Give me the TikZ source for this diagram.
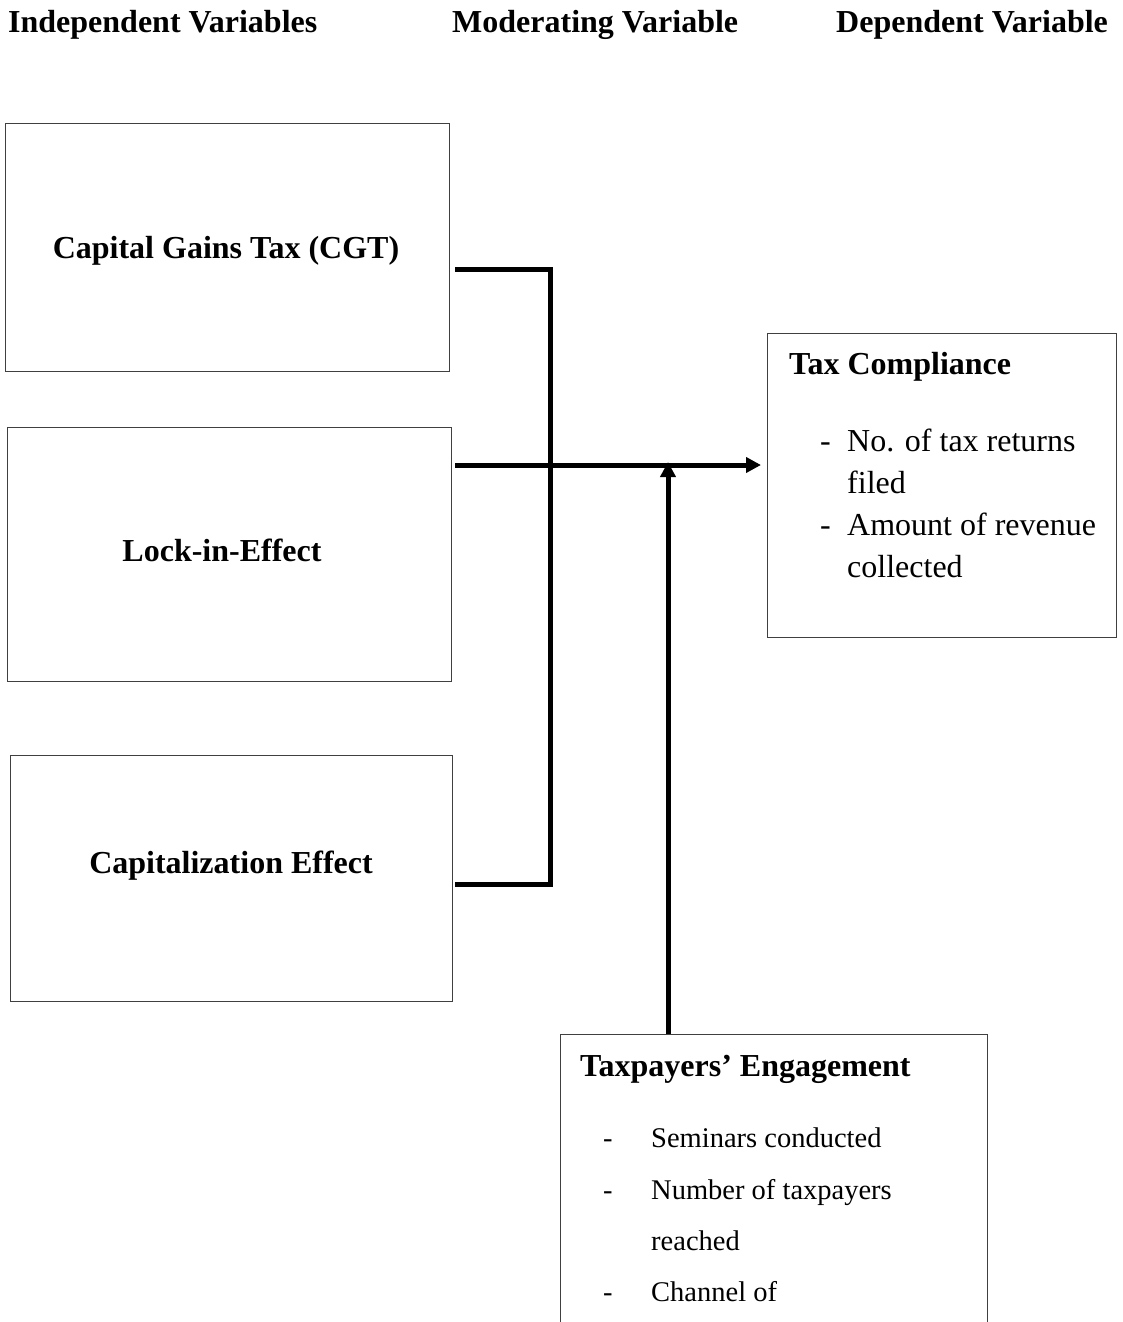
\documentclass[tikz,border=0pt]{standalone}
\usepackage{fontspec}
\setmainfont{Liberation Serif}
\usetikzlibrary{arrows.meta}
\begin{document}
\begin{tikzpicture}[x=1pt,y=-1pt,
  box/.style={draw=black!75,line width=1.2pt,rectangle,inner sep=0pt,anchor=north west},
  conn/.style={line width=5pt,black},
  tip/.style={-{Triangle[length=15pt,width=15pt]}},
  head/.style={font=\bfseries\fontsize{32}{38}\selectfont,anchor=base west,inner sep=0pt},
  bigtxt/.style={font=\fontsize{32}{38}\selectfont,anchor=base west,inner sep=0pt},
  smalltxt/.style={font=\fontsize{28.5}{34}\selectfont,anchor=base west,inner sep=0pt}]
\clip (0,0) rectangle (1122,1322);
\fill[white] (0,0) rectangle (1122,1322);
% headings
\node[head] (h1) at (8,33) {Independent Variables};
\node[head] (h2) at (452,33) {Moderating Variable};
\node[head] (h3) at (836,33) {Dependent Variable};
% boxes
\node[box,minimum width=444,minimum height=248] (cgt) at (5,123) {};
\node[box,minimum width=444,minimum height=254] (lock) at (7,427) {};
\node[box,minimum width=442,minimum height=246] (cap) at (10,755) {};
\node[box,minimum width=349,minimum height=304] (tc) at (767,333) {};
\node[box,minimum width=427,minimum height=400] (te) at (560,1034) {};
% box texts
\node[head,anchor=base] (cgtt) at (226,258) {Capital Gains Tax (CGT)};
\node[head,anchor=base] (lockt) at (222,561) {Lock-in-Effect};
\node[head,anchor=base] (capt) at (231,873) {Capitalization Effect};
\node[head] (tct) at (789,374) {Tax Compliance};
\node[bigtxt] (d1) at (820,451) {-};
\node[bigtxt] (l1) at (847,451) {No. of tax returns};
\node[bigtxt] (l2) at (847,493) {filed};
\node[bigtxt] (d2) at (820,535) {-};
\node[bigtxt] (l3) at (847,535) {Amount of revenue};
\node[bigtxt] (l4) at (847,577) {collected};
\node[head] (tet) at (580,1076) {Taxpayers’ Engagement};
\node[smalltxt] (e1) at (603,1147) {-};
\node[smalltxt] (m1) at (651,1147) {Seminars conducted};
\node[smalltxt] (e2) at (603,1199) {-};
\node[smalltxt] (m2) at (651,1199) {Number of taxpayers};
\node[smalltxt] (m3) at (651,1250) {reached};
\node[smalltxt] (e3) at (603,1301) {-};
\node[smalltxt] (m4) at (651,1301) {Channel of};
% connectors
\coordinate (a1) at (455,269);
\coordinate (a2) at (455,465);
\coordinate (a3) at (455,884);
\coordinate (bus) at (550,884);
\coordinate (mtip) at (668,462);
\draw[conn] (a1) -| (bus) -- (a3);
\draw[conn,tip,shorten >=6pt] (a2) -- (tc.west |- a2);
\draw[conn,tip] (te.north -| mtip) -- (mtip);
\end{tikzpicture}
\end{document}
